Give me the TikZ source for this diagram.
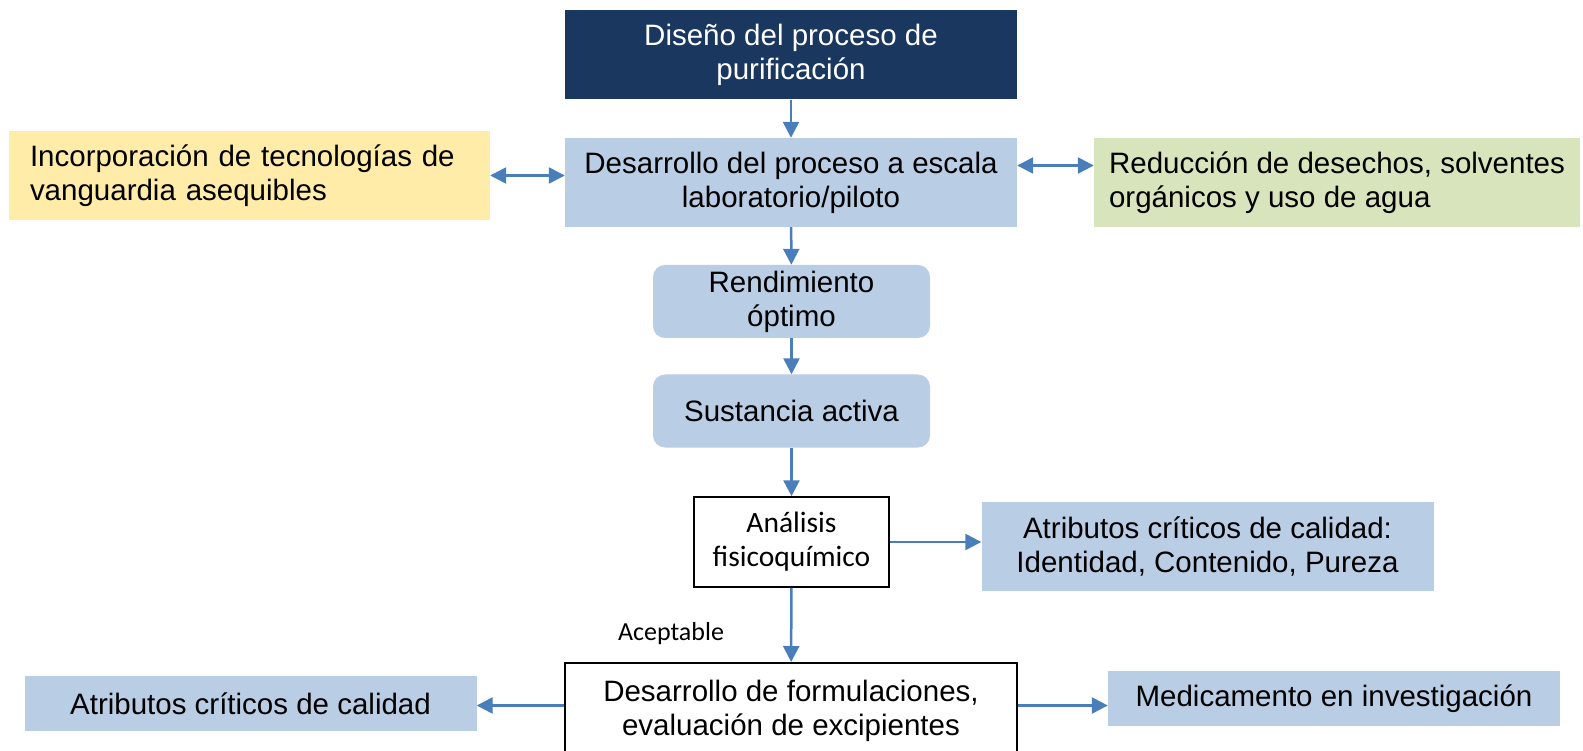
\documentclass[tikz,border=0pt]{standalone}
\usepackage{fontspec}
\setmainfont{Liberation Sans}
\newfontfamily\calibri{Carlito}
\usetikzlibrary{arrows.meta, positioning}
\definecolor{navy}{HTML}{1A3760}
\definecolor{paleblue}{HTML}{B9CDE5}
\definecolor{paleyellow}{HTML}{FFECA9}
\definecolor{palegreen}{HTML}{D8E4BC}
\definecolor{arrowblue}{HTML}{4A7EBB}
\tikzset{
  flow/.style = {draw=arrowblue, line width=2.5pt, -{Triangle[length=16pt, width=16pt]}},
  both/.style = {flow, {Triangle[length=16pt, width=16pt]}-{Triangle[length=16pt, width=16pt]}},
  box/.style = {fill=paleblue, inner sep=0pt, minimum width=452pt, minimum height=89pt,
    align=center, font=\fontsize{29.5}{34}\selectfont},
  roundbox/.style = {box, rounded corners=12pt, minimum width=277pt, minimum height=73pt},
  sidebox/.style = {box, inner xsep=21pt, align=left}
}

\begin{document}
\begin{tikzpicture}[x=1pt, y=-1pt]
  \useasboundingbox (0,0) rectangle (1583,751);
  \clip (0,0) rectangle (1583,751);

  % Purification design
  \node[box, fill=navy, text=white] (top) at (791,55) {Diseño del proceso de\\purificación};

  % Lab / pilot scale
  \node[box] (des) at (791,182.5) {Desarrollo del proceso a escala\\laboratorio/piloto};
  \node[sidebox, fill=paleyellow, text width=439pt, minimum width=481pt] (yellow) at (249.5,175.5)
    {Incorporación de tecnologías de\\vanguardia asequibles};
  \node[box, fill=palegreen, align=left, minimum width=486pt] (green) at (1337,182.5)
    {Reducción de desechos, solventes\\orgánicos y uso de agua};

  % Yield and active substance
  \node[roundbox] (rend) at (791.5,301.5) {Rendimiento\\óptimo};
  \node[roundbox] (sust) at (791.5,411) {Sustancia activa};

  % Analysis
  \node[draw, line width=1.5pt, fill=white, inner sep=0pt, minimum width=195pt, minimum height=90pt,
    align=center, font=\calibri\fontsize{29.5}{34}\selectfont] (anal) at (791.5,542) {Análisis\\fisicoquímico};
  \node[box] (atribr) at (1207.5,546.5) {Atributos críticos de calidad:\\Identidad, Contenido, Pureza};
  \node[font=\calibri\fontsize{26}{30}\selectfont] (acept) at (671,634) {Aceptable};

  % Formulation
  \node[box, fill=white, draw, line width=2pt, minimum height=95pt, anchor=north] (form) at (791,662)
    {Desarrollo de formulaciones,\\evaluación de excipientes};
  \node[box, minimum height=55pt] (atribl) at (250.5,703.5) {Atributos críticos de calidad};
  \node[box, minimum height=55pt] (medic) at (1334,698.5) {Medicamento en investigación};

  % Connectors
  \draw[flow] (top) -- (des);
  \draw[flow] (des) -- (rend);
  \draw[flow] (rend) -- (sust);
  \draw[flow] (sust) -- (anal);
  \draw[flow] (anal) -- (form);
  \draw[both] (yellow.east) -- (yellow.east -| des.west);
  \draw[both] ([yshift=17pt]des.east) -- ([yshift=17pt]des.east -| green.west);
  \draw[flow] (anal.east) -- (anal.east -| atribr.west);
  \draw[flow] ([yshift=5pt]form.west) -- ([yshift=5pt]form.west -| atribl.east);
  \draw[flow] ([yshift=5pt]form.east) -- ([yshift=5pt]form.east -| medic.west);

\end{tikzpicture}
\end{document}
